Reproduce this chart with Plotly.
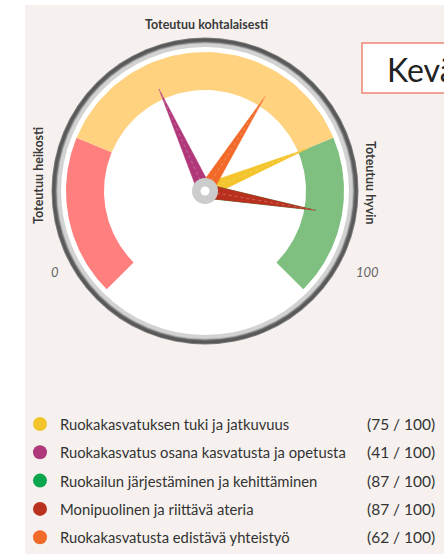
import math
import plotly.graph_objects as go

# ---- data ----
series_names = [
    "Ruokakasvatuksen tuki ja jatkuvuus",
    "Ruokakasvatus osana kasvatusta ja opetusta",
    "Ruokailun järjestäminen ja kehittäminen",
    "Monipuolinen ja riittävä ateria",
    "Ruokakasvatusta edistävä yhteistyö",
]
series_values = [75, 41, 87, 87, 62]
series_colors = ["#F3C42B", "#B0387A", "#0BA54E", "#B9301F", "#F26A2A"]

band_from = [0, 25, 75]
band_to = [25, 75, 100]
band_colors = ["#FF7F7F", "#FFD280", "#7FBF7F"]

gauge_min, gauge_max = 0, 100
title_text = "Kevät"

# ---- geometry ----
W, H = 444, 554
cx, cy = 205, 191
r_band_out, r_band_in = 139, 101
needle_len, needle_half = 112, 7
a_start, a_span = 225.0, 270.0


def ang(v):
    return math.radians(a_start - a_span * (v - gauge_min) / (gauge_max - gauge_min))


def pt(r, a):
    return cx + r * math.cos(a), cy - r * math.sin(a)


fig = go.Figure()

shapes = [
    dict(type="rect", x0=25, y0=5, x1=W + 5, y1=H + 5, fillcolor="#F6F1EE",
         line=dict(width=0), layer="below"),
]
for r, col in [(153.5, "#7a7a7a"), (152.5, "#585858"), (150, "#6e6e6e"), (148.8, "#a8a8a8"),
               (147.8, "#d2d2d2"), (144, "#ffffff")]:
    shapes.append(dict(type="circle", x0=cx - r, x1=cx + r, y0=cy - r, y1=cy + r,
                       fillcolor=col, line=dict(width=0), layer="below"))

# bands
for f, t, col in zip(band_from, band_to, band_colors):
    n = 60
    xs, ys = [], []
    for i in range(n + 1):
        x, y = pt(r_band_out, ang(f + (t - f) * i / n))
        xs.append(x); ys.append(y)
    for i in range(n, -1, -1):
        x, y = pt(r_band_in, ang(f + (t - f) * i / n))
        xs.append(x); ys.append(y)
    fig.add_trace(go.Scatter(x=xs, y=ys, fill="toself", fillcolor=col, mode="lines",
                             line=dict(width=0, color=col), hoverinfo="skip", showlegend=False))

# needles
for name, v, col in zip(series_names, series_values, series_colors):
    a = ang(v)
    tx, ty = pt(needle_len, a)
    bx1, by1 = pt(needle_half, a + math.pi / 2)
    bx2, by2 = pt(needle_half, a - math.pi / 2)
    fig.add_trace(go.Scatter(x=[bx1, tx, bx2, bx1], y=[by1, ty, by2, by1], fill="toself",
                             fillcolor=col, mode="lines", line=dict(width=0.5, color=col),
                             hoverinfo="skip", showlegend=False))
    fig.add_trace(go.Scatter(x=[cx, tx], y=[cy, ty], mode="lines",
                             line=dict(width=0.7, color="rgba(255,255,255,0.35)", dash="dot"),
                             hoverinfo="skip", showlegend=False))

# hub
fig.add_trace(go.Scatter(x=[cx], y=[cy], mode="markers",
                         marker=dict(size=26, color="#CCCCCC", line=dict(width=0)),
                         hoverinfo="skip", showlegend=False))
fig.add_trace(go.Scatter(x=[cx], y=[cy], mode="markers",
                         marker=dict(size=9, color="#FFFFFF", line=dict(width=0)),
                         hoverinfo="skip", showlegend=False))

# legend dots
row_y0, row_dy = 424, 28.3
rows_y = [row_y0 + i * row_dy for i in range(len(series_names))]
fig.add_trace(go.Scatter(x=[40] * len(rows_y), y=rows_y, mode="markers",
                         marker=dict(size=14, color=series_colors, line=dict(width=0)),
                         hoverinfo="skip", showlegend=False))

ann = []
for name, v, y in zip(series_names, series_values, rows_y):
    ann.append(dict(x=58, y=y, text=name, xanchor="left", yanchor="middle", showarrow=False,
                    font=dict(family="Lato", size=14.8, color="#333333")))
    ann.append(dict(x=437, y=y, text=f"({v} / {gauge_max})", xanchor="right", yanchor="middle",
                    showarrow=False, font=dict(family="Lato", size=15.5, color="#333333")))

lab_font = dict(family="Lato", size=12.5, color="#3a3a3a", weight="bold")
ann += [
    dict(x=206, y=24, text="Toteutuu kohtalaisesti", showarrow=False, font=lab_font,
         xanchor="center", yanchor="middle"),
    dict(x=38, y=176, text="Toteutuu heikosti", showarrow=False, font=lab_font, textangle=-90,
         xanchor="center", yanchor="middle"),
    dict(x=371, y=182, text="Toteutuu hyvin", showarrow=False, font=lab_font, textangle=90,
         xanchor="center", yanchor="middle"),
    dict(x=55, y=272, text=f"<i>{gauge_min}</i>", showarrow=False,
         font=dict(family="Lato", size=13, color="#666666"), xanchor="center", yanchor="middle"),
    dict(x=367, y=272, text=f"<i>{gauge_max}</i>", showarrow=False,
         font=dict(family="Lato", size=13, color="#666666"), xanchor="center", yanchor="middle"),
    dict(x=385, y=69, text=title_text, showarrow=False, xanchor="left", yanchor="middle",
         font=dict(family="Lato", size=32, color="#222222")),
]

shapes.append(dict(type="rect", x0=362, y0=43, x1=W + 40, y1=93, fillcolor="#FFFFFF",
                   line=dict(color="#F08474", width=1.5), layer="below"))

fig.update_layout(
    width=W, height=H, margin=dict(l=0, r=0, t=0, b=0),
    paper_bgcolor="#FFFFFF", plot_bgcolor="rgba(0,0,0,0)",
    xaxis=dict(range=[0, W], visible=False, fixedrange=True),
    yaxis=dict(range=[H, 0], visible=False, fixedrange=True),
    shapes=shapes, annotations=ann, showlegend=False,
)

fig.write_html("out.html", config={"displayModeBar": False},
               post_script="document.body.style.margin='0';document.body.style.overflow='hidden';")
